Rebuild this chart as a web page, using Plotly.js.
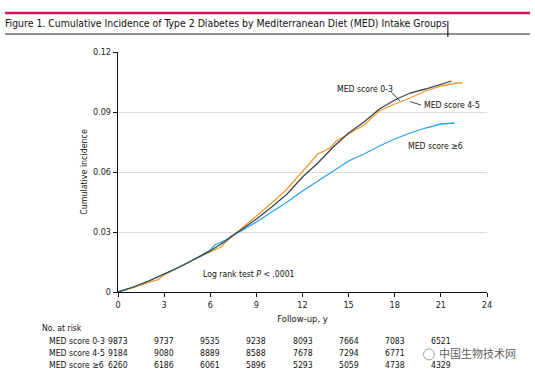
<!DOCTYPE html>
<html><head><meta charset="utf-8">
<script src="https://cdn.plot.ly/plotly-3.0.1.min.js"></script>
<style>html,body{margin:0;padding:0;background:#fff} #chart text{font-stretch:condensed !important;}</style>
</head><body><div id="chart" style="width:535px;height:378px"></div>
<script>
// Data
const tLow  = [0,1,2,3,4,5,6,7,7.5,8,9,10,11,12,13,14,15,16,17,18,19,20,21,21.7];
const vLow  = [0,0.0025,0.0055,0.009,0.0125,0.0165,0.0205,0.0255,0.0285,0.031,0.0365,0.0425,0.049,0.0575,0.0645,0.0725,0.0795,0.085,0.0915,0.096,0.0995,0.1015,0.104,0.1055];
const tMid  = [0,1,2,2.6,3,4,5,6,6.7,7,7.5,8,9,10,11,12,13,13.8,14.2,15,16,17,18,19,20,21,22,22.4];
const vMid  = [0,0.0022,0.0048,0.0062,0.0085,0.0125,0.0165,0.020,0.0225,0.025,0.0285,0.0315,0.038,0.0445,0.0515,0.060,0.069,0.072,0.0755,0.079,0.0835,0.0905,0.094,0.097,0.1005,0.103,0.1045,0.1045];
const tHigh = [0,1,2,3,4,5,6,6.3,7,7.5,8,9,10,11,12,13,14,15,16,17,18,19,20,21,21.9];
const vHigh = [0,0.0025,0.0055,0.009,0.0125,0.0165,0.021,0.0235,0.026,0.0285,0.0305,0.035,0.040,0.045,0.0505,0.0555,0.0605,0.0655,0.069,0.073,0.0765,0.0795,0.082,0.084,0.0845];

const groupNames = ["MED score 0-3","MED score 4-5","MED score \u22656"];
const riskTimes = [0,3,6,9,12,15,18,21];
const riskLow  = [9873,9737,9535,9238,8093,7664,7083,6521];
const riskMid  = [9184,9080,8889,8588,7678,7294,6771,""];
const riskHigh = [6260,6186,6061,5896,5293,5059,4738,4329];
const xTicks = [0,3,6,9,12,15,18,21,24];
const yTicks = [0,0.03,0.06,0.09,0.12];
const yTickText = ["0","0.03","0.06","0.09","0.12"];

const FONT = "DejaVu Sans Condensed, DejaVu Sans, sans-serif";
const cLow = "#37474f", cMid = "#f39a2b", cHigh = "#2ba3e6";

const traces = [
  {x:tMid, y:vMid, mode:"lines", line:{color:cMid,width:1.3}, name:groupNames[1]},
  {x:tHigh,y:vHigh,mode:"lines", line:{color:cHigh,width:1.3}, name:groupNames[2]},
  {x:tLow, y:vLow, mode:"lines", line:{color:cLow,width:1.3}, name:groupNames[0]}
];

const ann = [];
function A(o,sz){ann.push(Object.assign({showarrow:false,font:{family:FONT,size:sz||8.6,color:"#111"}},o));}
A({text:groupNames[0],x:14.1,y:0.1015,xref:"x",yref:"y",xanchor:"left",yanchor:"middle"});
A({text:groupNames[1],x:19.77,y:0.0935,xref:"x",yref:"y",xanchor:"left",yanchor:"middle"});
A({text:groupNames[2],x:18.73,y:0.073,xref:"x",yref:"y",xanchor:"left",yanchor:"middle"});
A({text:"Log rank test <i>P</i> &lt; .0001",x:5.4,y:0.009,xref:"x",yref:"y",xanchor:"left",yanchor:"middle"});
A({text:"No. at risk",x:-0.211,y:-0.15,xref:"paper",yref:"paper",xanchor:"left",yanchor:"middle"});
const rowY = [-0.204,-0.254,-0.304];
const rows = [riskLow,riskMid,riskHigh];
rows.forEach((r,i)=>{
  A({text:groupNames[i],x:-0.192,y:rowY[i],xref:"paper",yref:"paper",xanchor:"left",yanchor:"middle"});
  r.forEach((v,j)=>{ if(v!=="") A({text:String(v),x:riskTimes[j],y:rowY[i],xref:"x",yref:"paper",xanchor:"center",yanchor:"middle"}); });
});
ann.push({text:"\u4e2d\u56fd\u751f\u7269\u6280\u672f\u7f51",x:0.973,y:-0.256,xref:"paper",yref:"paper",xanchor:"center",yanchor:"middle",
   showarrow:false,font:{family:"Noto Sans CJK SC",size:11,color:"rgba(60,60,60,0.85)"}});

const shapes = [
  {type:"line",xref:"paper",yref:"paper",x0:-0.306,x1:1.1165,y0:1.1625,y1:1.1625,line:{color:"#d6135c",width:2.5}},
  {type:"line",xref:"paper",yref:"paper",x0:-0.306,x1:1.1165,y0:1.075,y1:1.075,line:{color:"#222",width:1}},
  {type:"line",xref:"paper",yref:"paper",x0:0.894,x1:0.894,y0:1.0625,y1:1.13,line:{color:"#000",width:1}},
  {type:"line",xref:"x",yref:"y",x0:17.8,y0:0.0998,x1:18.34,y1:0.0955,line:{color:"#111",width:0.8}},
  {type:"line",xref:"x",yref:"y",x0:19.0,y0:0.0952,x1:19.7,y1:0.0935,line:{color:"#111",width:0.8}},
  {type:"circle",xref:"paper",yref:"paper",x0:0.828,x1:0.857,y0:-0.283,y1:-0.237,line:{color:"rgba(120,120,120,0.7)",width:1}}
];

const layout = {
  width:535,height:378,
  margin:{l:118,r:48,t:52,b:86},
  paper_bgcolor:"#fff",plot_bgcolor:"#fff",
  showlegend:false,
  title:{text:"Figure 1. Cumulative Incidence of Type 2 Diabetes by Mediterranean Diet (MED) Intake Groups",
    xref:"container",yref:"container",x:0.0093,xanchor:"left",y:1-23/378,yanchor:"middle",
    font:{family:FONT,size:10.4,color:"#111"}},
  xaxis:{range:[0,24],tickvals:xTicks,ticktext:xTicks.map(String),showgrid:false,zeroline:false,
    showline:true,linecolor:"#111",linewidth:1.2,ticks:"outside",ticklen:4,tickcolor:"#111",
    tickfont:{family:FONT,size:9,color:"#222"},
    title:{text:"Follow-up, y",font:{family:FONT,size:9.4,color:"#111"},standoff:6}},
  yaxis:{range:[0,0.12],tickvals:yTicks,ticktext:yTickText,showgrid:true,gridcolor:"#dcdcdc",gridwidth:1,zeroline:false,
    showline:true,linecolor:"#111",linewidth:1.2,ticks:"outside",ticklen:4,tickcolor:"#111",
    tickfont:{family:FONT,size:9,color:"#222"},
    title:{text:"Cumulative incidence",font:{family:FONT,size:8.8,color:"#111"},standoff:3}},
  annotations:ann,shapes:shapes
};
Plotly.newPlot("chart",traces,layout,{displayModeBar:false,staticPlot:true});
</script></body></html>
